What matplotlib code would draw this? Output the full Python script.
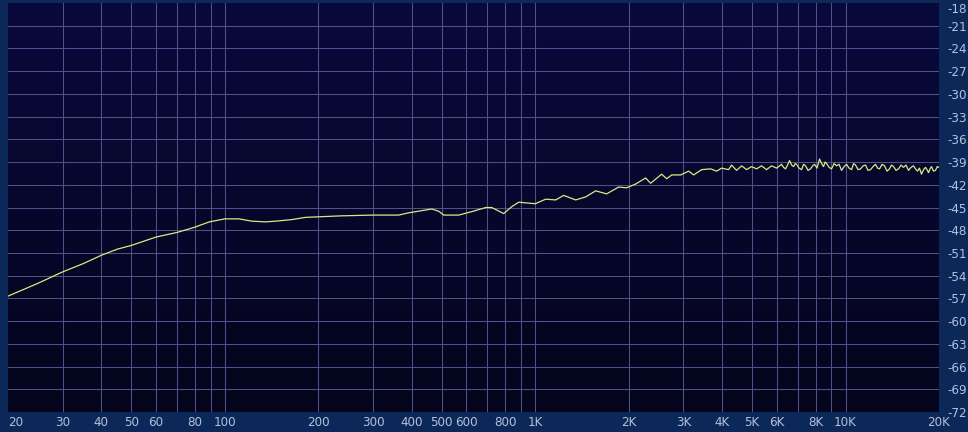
import matplotlib
matplotlib.use("Agg")
import matplotlib.pyplot as plt
from matplotlib import font_manager
import numpy as np

# Frequencies (Hz) and level (dB)
freq_low = [20, 25, 30, 35, 40, 45, 50, 60, 70, 80, 89, 100, 111, 122, 135, 146, 164, 182,
            238, 300, 363, 391, 464, 489, 507, 567, 630, 693, 724, 791, 840, 884, 940]
db_low = [-56.7, -55.0, -53.5, -52.4, -51.3, -50.5, -50.0, -48.9, -48.3, -47.6, -46.9, -46.5,
          -46.5, -46.8, -46.9, -46.8, -46.6, -46.3, -46.1, -46.0, -46.0, -45.7, -45.2, -45.5,
          -46.0, -46.0, -45.5, -45.0, -45.0, -45.8, -44.9, -44.3, -44.4]

freq_mid = [1000, 1081, 1164, 1235, 1350, 1454, 1566, 1698, 1857, 1970, 2107, 2268, 2354,
            2554, 2652, 2752, 2942, 3122, 3240, 3438, 3674, 3842, 3986, 4198, 4292, 4454,
            4624, 4798, 4978, 5166, 5362, 5564, 5774, 5994]
db_mid = [-44.5, -43.9, -44.0, -43.4, -44.0, -43.6, -42.8, -43.2, -42.3, -42.4, -41.9, -41.1,
          -41.8, -40.6, -41.2, -40.7, -40.7, -40.2, -40.7, -40.0, -39.9, -40.2, -39.8, -40.0,
          -39.4, -40.1, -39.5, -40.0, -39.6, -39.9, -39.5, -40.0, -39.5, -39.8]

freq_high = [6220, 6310, 6406, 6500, 6600, 6700, 6800, 6880, 6952, 7080, 7214, 7320, 7430,
             7570, 7712, 7830, 7944, 8090, 8244, 8370, 8492, 8590, 8684, 8850, 9012, 9180,
             9354, 9530, 9706, 9890, 10072, 10260, 10452, 10610, 10768, 10970, 11176, 11390,
             11598, 11810, 12034, 12260, 12488, 12680, 12866, 13110, 13352, 13600, 13854,
             14060, 14272, 14540, 14812, 15090, 15370, 15660, 15950, 16250, 16552, 16800,
             17052, 17300, 17566, 17830, 18094, 18300, 18502, 18710, 18918, 19200, 19486,
             19740, 20000]
db_high = [-39.3, -39.7, -39.9, -39.4, -38.8, -39.4, -39.6, -39.2, -39.3, -39.8, -40.0, -39.3,
           -39.5, -40.1, -39.9, -39.5, -39.3, -39.8, -38.6, -39.2, -39.6, -39.0, -39.2, -39.7,
           -39.9, -39.2, -39.5, -39.3, -40.1, -39.6, -39.3, -39.8, -40.0, -39.2, -39.4, -40.0,
           -39.9, -39.5, -39.4, -40.1, -40.0, -39.6, -39.3, -39.8, -39.9, -39.3, -39.5, -40.2,
           -39.9, -39.4, -39.6, -40.1, -39.9, -39.4, -39.7, -39.4, -40.1, -39.7, -39.5, -39.9,
           -40.2, -39.8, -40.6, -40.0, -39.7, -40.0, -40.4, -39.9, -39.6, -40.2, -40.1, -39.6,
           -39.7]

grid_freqs = [30, 40, 50, 60, 70, 80, 90, 100, 200, 300, 400, 500, 600, 700, 800, 900,
              1000, 2000, 3000, 4000, 5000, 6000, 7000, 8000, 9000, 10000]
tick_freqs = [20, 30, 40, 50, 60, 80, 100, 200, 300, 400, 500, 600, 800,
              1000, 2000, 3000, 4000, 5000, 6000, 8000, 10000, 20000]
tick_labels = ["20", "30", "40", "50", "60", "80", "100", "200", "300", "400", "500", "600",
               "800", "1K", "2K", "3K", "4K", "5K", "6K", "8K", "10K", "20K"]
db_ticks = list(range(-72, -17, 3))

# fonte estreita: tenta a versão condensada do DejaVu
fp = font_manager.FontProperties(family="DejaVu Sans", stretch="condensed", size=9.5)

fig = plt.figure(figsize=(9.68, 4.32), dpi=100, facecolor="#0b2858")
ax = fig.add_axes([8 / 968, 1 - 412 / 432, 931 / 968, 409 / 432])

# fundo em degradê da área do gráfico
grad = np.linspace(0, 1, 256).reshape(-1, 1)
cmap = matplotlib.colors.LinearSegmentedColormap.from_list("fundo", ["#09093c", "#04051c"])
ax.imshow(grad, aspect="auto", cmap=cmap, extent=[0, 1, 0, 1], transform=ax.transAxes,
          zorder=0)

ax.set_xscale("log")
ax.set_xlim(20, 20000)
ax.set_ylim(-72, -18)

for f in grid_freqs:
    ax.axvline(f, color="#50508a", lw=0.75, zorder=1)
for d in db_ticks[1:-1]:
    ax.axhline(d, color="#50508a", lw=0.75, zorder=1)

freqs = freq_low + freq_mid + freq_high
dbs = db_low + db_mid + db_high
ax.plot(freqs, dbs, color="#d4ec80", lw=0.9, zorder=3)

ax.set_xticks(tick_freqs)
ax.set_xticklabels(tick_labels)
ax.xaxis.set_minor_locator(matplotlib.ticker.NullLocator())
ax.set_yticks(db_ticks)
ax.set_yticklabels([str(d) for d in db_ticks])
ax.yaxis.tick_right()
ax.tick_params(axis="both", length=0, colors="#b4c0dc")
ax.tick_params(axis="x", pad=3)
ax.tick_params(axis="y", pad=13)
for lab in ax.get_xticklabels() + ax.get_yticklabels():
    lab.set_fontproperties(fp)
for lab in ax.get_yticklabels():
    lab.set_horizontalalignment("center")
ax.get_yticklabels()[-1].set_verticalalignment("top")
ax.get_xticklabels()[0].set_horizontalalignment("left")
for s in ax.spines.values():
    s.set_visible(False)

fig.savefig("out.png", dpi=100, facecolor=fig.get_facecolor())
